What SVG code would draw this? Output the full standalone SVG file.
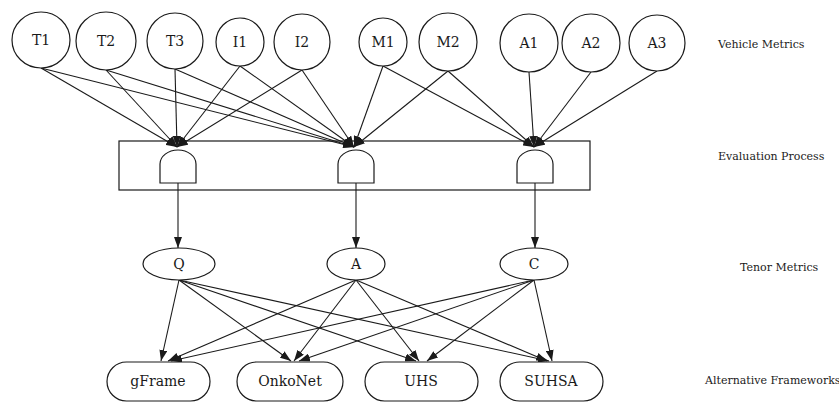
<svg xmlns="http://www.w3.org/2000/svg" width="839" height="407" viewBox="0 0 839 407">
<defs>
<style>
.n{fill:#fff;stroke:#1a1a1a;stroke-width:1.2}
.e{fill:none;stroke:#1a1a1a;stroke-width:1.1}
.t{font-family:"DejaVu Serif","Liberation Serif",serif;font-size:14px;fill:#1a1a1a;text-anchor:middle}
.s{font-family:"DejaVu Serif","Liberation Serif",serif;font-size:11px;fill:#1a1a1a}
</style>
<marker id="ah" markerUnits="userSpaceOnUse" markerWidth="11" markerHeight="8" refX="11" refY="4" orient="auto"><path d="M0,0 L11,4 L0,8 z" fill="#1a1a1a"/></marker>
</defs>
<rect width="839" height="407" fill="#fff"/>
<g id="evaluation-box"><rect class="n" x="119" y="141" width="471" height="49"/></g>
<g id="connectors" class="e" marker-end="url(#ah)">
<line x1="41" y1="68" x2="177" y2="147"/>
<line x1="106" y1="70" x2="177" y2="147"/>
<line x1="175" y1="69" x2="177" y2="147"/>
<line x1="240" y1="66" x2="177" y2="147"/>
<line x1="302" y1="70" x2="177" y2="147"/>
<line x1="41" y1="68" x2="354" y2="147"/>
<line x1="106" y1="70" x2="354" y2="147"/>
<line x1="175" y1="69" x2="354" y2="147"/>
<line x1="240" y1="66" x2="354" y2="147"/>
<line x1="302" y1="70" x2="354" y2="147"/>
<line x1="383" y1="66" x2="354" y2="147"/>
<line x1="448" y1="71" x2="354" y2="147"/>
<line x1="383" y1="66" x2="534" y2="147"/>
<line x1="448" y1="71" x2="534" y2="147"/>
<line x1="529" y1="72" x2="534" y2="147"/>
<line x1="591" y1="72" x2="534" y2="147"/>
<line x1="657" y1="71" x2="534" y2="147"/>
<line x1="178" y1="183" x2="178" y2="248"/>
<line x1="356" y1="183" x2="356" y2="248"/>
<line x1="535" y1="183" x2="535" y2="248"/>
<line x1="179" y1="280" x2="161" y2="361"/>
<line x1="356" y1="280" x2="168" y2="361"/>
<line x1="534" y1="280" x2="171" y2="361"/>
<line x1="179" y1="280" x2="291" y2="361"/>
<line x1="356" y1="280" x2="294" y2="361"/>
<line x1="534" y1="280" x2="299" y2="361"/>
<line x1="179" y1="280" x2="416" y2="361"/>
<line x1="356" y1="280" x2="419" y2="361"/>
<line x1="534" y1="280" x2="427" y2="361"/>
<line x1="179" y1="280" x2="549" y2="361"/>
<line x1="356" y1="280" x2="547" y2="361"/>
<line x1="534" y1="280" x2="552" y2="361"/>
</g>
<g id="T1"><ellipse class="n" cx="41" cy="40" rx="29" ry="28"/><text class="t" x="41" y="45">T1</text></g>
<g id="T2"><ellipse class="n" cx="106" cy="41" rx="30" ry="29"/><text class="t" x="106" y="46">T2</text></g>
<g id="T3"><ellipse class="n" cx="175" cy="41" rx="28" ry="28"/><text class="t" x="175" y="46">T3</text></g>
<g id="I1"><ellipse class="n" cx="240" cy="42" rx="24" ry="24"/><text class="t" x="240" y="47">I1</text></g>
<g id="I2"><ellipse class="n" cx="302" cy="42" rx="28" ry="28"/><text class="t" x="302" y="47">I2</text></g>
<g id="M1"><ellipse class="n" cx="383" cy="42" rx="24" ry="24"/><text class="t" x="383" y="47">M1</text></g>
<g id="M2"><ellipse class="n" cx="448" cy="42" rx="29" ry="29"/><text class="t" x="448" y="47">M2</text></g>
<g id="A1"><ellipse class="n" cx="529" cy="43" rx="29" ry="29"/><text class="t" x="529" y="48">A1</text></g>
<g id="A2"><ellipse class="n" cx="591" cy="43" rx="29" ry="29"/><text class="t" x="591" y="48">A2</text></g>
<g id="A3"><ellipse class="n" cx="657" cy="43" rx="28" ry="28"/><text class="t" x="657" y="48">A3</text></g>
<g id="gate-Q"><path class="n" d="M160,183 L160,164 A18,14 0 0 1 196,164 L196,183 Z"/></g>
<g id="gate-A"><path class="n" d="M338,183 L338,164 A18,14 0 0 1 374,164 L374,183 Z"/></g>
<g id="gate-C"><path class="n" d="M517,183 L517,164 A18,14 0 0 1 553,164 L553,183 Z"/></g>
<g id="Q"><ellipse class="n" cx="179" cy="264" rx="36" ry="16"/><text class="t" x="179" y="269">Q</text></g>
<g id="A"><ellipse class="n" cx="356" cy="264" rx="29" ry="16"/><text class="t" x="356" y="269">A</text></g>
<g id="C"><ellipse class="n" cx="534" cy="264" rx="34" ry="16"/><text class="t" x="534" y="269">C</text></g>
<g id="gFrame"><rect class="n" x="107" y="362" width="103" height="39" rx="19.5"/><text class="t" x="158" y="386">gFrame</text></g>
<g id="OnkoNet"><rect class="n" x="237" y="362" width="106" height="39" rx="19.5"/><text class="t" x="290" y="386">OnkoNet</text></g>
<g id="UHS"><rect class="n" x="365" y="362" width="113" height="39" rx="19.5"/><text class="t" x="421" y="386">UHS</text></g>
<g id="SUHSA"><rect class="n" x="500" y="362" width="103" height="39" rx="19.5"/><text class="t" x="551" y="386">SUHSA</text></g>
<g id="labels">
<text class="s" x="718" y="48">Vehicle Metrics</text>
<text class="s" x="718" y="160">Evaluation Process</text>
<text class="s" x="740" y="271">Tenor Metrics</text>
<text class="s" x="705" y="384">Alternative Frameworks</text>
</g>
</svg>
